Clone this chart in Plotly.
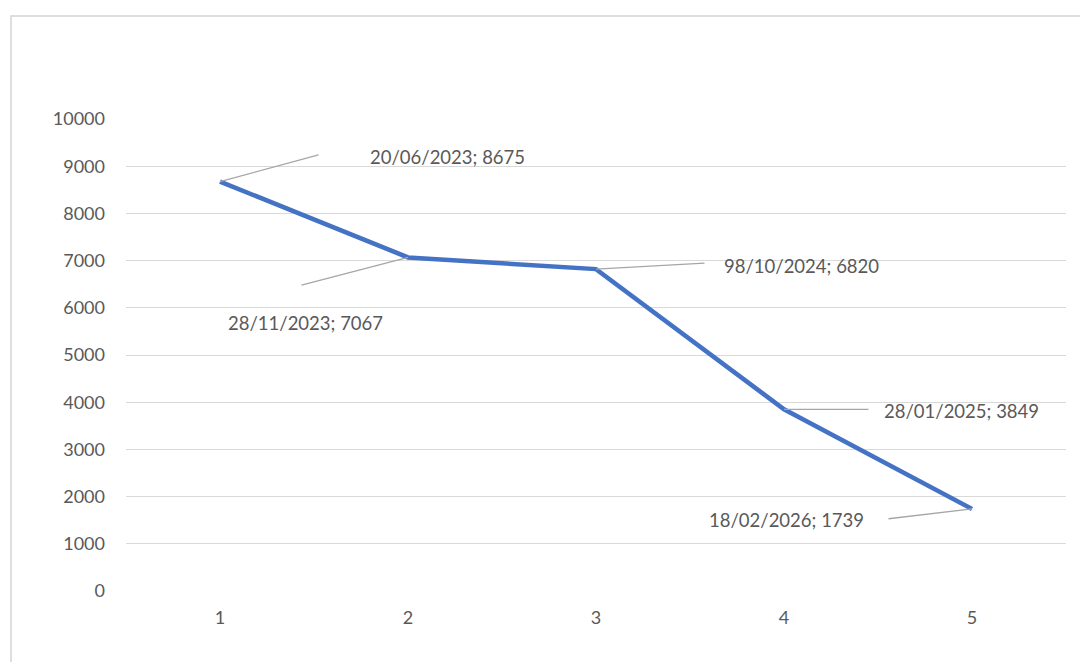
import plotly.graph_objects as go

categories = [1, 2, 3, 4, 5]
values = [8675, 7067, 6820, 3849, 1739]
dates = ["20/06/2023", "28/11/2023", "98/10/2024", "28/01/2025", "18/02/2026"]
y_ticks = [0, 1000, 2000, 3000, 4000, 5000, 6000, 7000, 8000, 9000, 10000]

LINE_BLUE = "#4472C4"
TEXT_GREY = "#595959"
GRID_GREY = "#d9d9d9"
FONT = "Lato, 'Open Sans', sans-serif"

# label placement, Excel-style leader lines (pixel offsets from each point)
# (arrow dx, arrow dy, text xshift, text yshift, text anchor)
label_pos = [
    (100, -27, 148, 25, "left"),
    (-108, 28, -103, -66, "center"),
    (110, -6, 126, 3, "left"),
    (86, 0, 98, -2, "left"),
    (-85, 10, -106, -11, "right"),
]

fig = go.Figure(
    go.Scatter(
        x=categories,
        y=values,
        mode="lines",
        line=dict(color=LINE_BLUE, width=4.5),
        hoverinfo="skip",
    )
)

annotations = []
for cat, val, date, (dx, dy, tx, ty, anchor) in zip(categories, values, dates, label_pos):
    # leader line
    annotations.append(dict(
        x=cat, y=val, xref="x", yref="y",
        text="", showarrow=True, arrowhead=0, arrowwidth=1.3,
        arrowcolor="#a6a6a6", ax=dx, ay=dy, standoff=0, startstandoff=0,
    ))
    # label text
    annotations.append(dict(
        x=cat, y=val, xref="x", yref="y",
        text=f"{date}; {val}", showarrow=False,
        xanchor=anchor, yanchor="middle", xshift=tx, yshift=ty,
        font=dict(family=FONT, size=18.5, color=TEXT_GREY),
    ))

fig.update_layout(
    width=1088,
    height=662,
    paper_bgcolor="white",
    plot_bgcolor="white",
    showlegend=False,
    margin=dict(l=118, r=30, t=111, b=79),
    annotations=annotations,
    shapes=[dict(
        type="rect", xref="paper", yref="paper",
        x0=-0.1223, x1=1.2, y0=-0.5, y1=1.218,
        line=dict(color="#d4d4d4", width=1.5), layer="below",
    )],
    xaxis=dict(
        range=[0.5, 5.5],
        tickvals=categories,
        ticktext=[str(c) for c in categories],
        showgrid=False,
        zeroline=False,
        showline=False,
        ticks="",
        ticklabelstandoff=14,
        tickfont=dict(family=FONT, size=18, color=TEXT_GREY),
    ),
    yaxis=dict(
        range=[0, 10000],
        tickvals=y_ticks,
        ticktext=[str(t) for t in y_ticks],
        showgrid=True,
        gridcolor=GRID_GREY,
        gridwidth=1.3,
        zeroline=False,
        showline=False,
        ticks="",
        ticklabelstandoff=20,
        tickfont=dict(family=FONT, size=18, color=TEXT_GREY),
    ),
)

fig.write_html("out.html")
